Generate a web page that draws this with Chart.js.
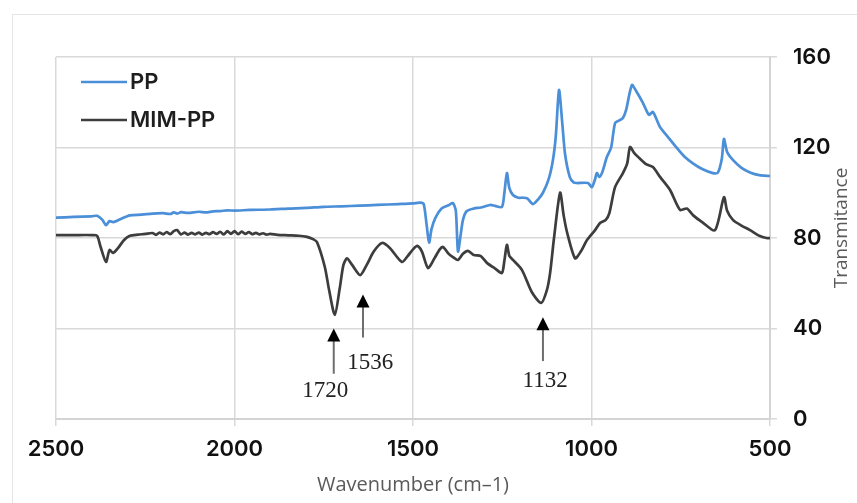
<!DOCTYPE html>
<html><head><meta charset="utf-8">
<script src="https://cdn.jsdelivr.net/npm/chart.js@4.4.0/dist/chart.umd.min.js"></script>
<style>
html,body{margin:0;padding:0;background:#fff;overflow:hidden;}
#wrap{position:relative;width:857px;height:503px;}
#frame{position:absolute;left:12px;top:14px;width:1000px;height:1000px;border-left:1px solid #e4e4e4;border-top:1px solid #e4e4e4;}
canvas{position:absolute;left:0;top:0;}
</style></head><body>
<div id="wrap"><div id="frame"></div><canvas id="c" width="857" height="503"></canvas></div>
<script>
// ---- data (wavenumber in cm-1, transmitance) ----
const ppWavenumber = [2500,2450,2400,2385,2370,2360,2350,2340,2320,2293,2260,2230,2200,2180,2170,2160,2150,2130,2100,2080,2060,2040,2020,2000,1957,1900,1850,1800,1750,1700,1650,1600,1540,1500,1480,1470,1462,1455,1448,1437,1420,1400,1388,1380,1374,1366,1360,1350,1330,1310,1284,1270,1251,1244,1237,1230,1220,1205,1192,1180,1164,1150,1136,1120,1108,1100,1091,1082,1074,1061,1050,1041,1010,999,990,985,978,970,957,945,934,922,912,903,887,875,856,845,839,828,808,790,761,740,716,690,660,646,635,629,620,604,580,556,530,500];
const ppValues     = [89,89.3,89.6,89.8,88,85.7,87.5,87,88.3,90,90.3,90.8,91,90.6,91.3,90.8,91.4,91.1,91.6,91.3,91.8,91.9,92.2,92.1,92.4,92.6,93,93.3,93.8,94,94.3,94.6,95,95.3,95.6,95,86,78,84,89,93,94.5,95.4,92,74,82,88,91.8,93,93.5,94.6,94.2,93.7,100,108.7,102,99,97.8,97.8,97.5,95,97,100,106,114.5,125,145.4,131,117,107,104.5,104.3,104.3,102.5,106,108.7,107,109,115.8,120,130.8,132,133,136.6,147.6,145,139.7,136,134.4,135.7,129,125.5,119.8,116,113,110.5,108.7,108.9,115,123.8,118,114.5,111,109,107.8,107.4];
const mimWavenumber = [2500,2450,2400,2385,2375,2360,2350,2340,2326,2310,2293,2270,2250,2230,2220,2210,2200,2190,2180,2170,2161,2150,2140,2130,2120,2110,2100,2090,2080,2070,2060,2050,2040,2030,2020,2010,2000,1990,1980,1970,1960,1950,1940,1930,1920,1910,1900,1880,1850,1820,1797,1780,1769,1747,1735,1719,1705,1695,1685,1670,1648,1630,1610,1587,1565,1531,1515,1500,1488,1475,1458,1440,1425,1416,1400,1388,1374,1360,1346,1330,1310,1293,1270,1251,1244,1237,1230,1220,1195,1167,1141,1125,1116,1105,1088,1078,1068,1046,1030,1013,990,976,960,950,934,912,900,892,880,864,846,828,808,780,752,733,715,690,654,629,620,604,580,556,530,510,500];
const mimValues     = [81.3,81.3,81.3,81,76,69.4,74.7,73.4,75.6,79,81,81.5,81.8,82.2,81.4,82.4,81.6,82.6,81.7,83,83.5,81.6,82.4,81.5,82.3,81.6,82.4,81.5,82.3,81.7,82.6,81.8,82.7,81.6,83,81.8,83,81.7,82.8,81.8,82.6,81.7,82.3,81.6,82.1,81.5,81.8,81.4,81.2,81,80.5,79.5,78.2,67.2,57,46,58,68,71,68,63.6,68,74,77.8,75.6,69.4,72,75,76.5,74,66.7,71,75,76,73,71.6,70.3,73,74.3,72.5,72,69,66.5,64.5,70,77,72,70.3,65.9,56,51.3,57,64.5,80,100,90,82.2,71,74,79,83.5,86.6,88,91,102.5,108.7,113,120.2,117.5,115,112.5,111.4,107,101.2,92.4,93,90,87,83.5,98,92,88,85.5,83.5,81,80,80];
const seriesNames = ['PP','MIM-PP'];
const xTicks = [2500,2000,1500,1000,500];
const yTicks = [0,40,80,120,160];
const xTitle = 'Wavenumber (cm\u20131)';
const yTitle = 'Transmitance';
// peak annotations (data coordinates)
const annotationLabels = ['1720','1536','1132'];
const annotationX      = [1722,1640,1136];
const annotationTipY   = [40,55,45];
const annotationTailY  = [20,36,25.6];
const annotationTextX  = [1746,1620,1130];
const annotationTextY  = [12.4,24.8,16.8];

const toPoints = (xs, ys) => xs.map((x, i) => ({x: x, y: ys[i]}));
const COLORS = ['#4a8fd8', '#3d3d3d'];

const decorPlugin = {
  id: 'decor',
  afterDatasetsDraw(chart) {
    const ctx = chart.ctx, area = chart.chartArea;
    const xs = chart.scales.x, ys = chart.scales.y;
    // legend inside the plot
    ctx.save();
    ctx.font = '600 22px Inter';
    ctx.textBaseline = 'middle';
    ctx.textAlign = 'left';
    chart.data.datasets.forEach((ds, i) => {
      const y = area.top + 25 + i * 38;
      ctx.strokeStyle = ds.borderColor;
      ctx.lineWidth = 2.6;
      ctx.beginPath();
      ctx.moveTo(area.left + 25, y);
      ctx.lineTo(area.left + 71, y);
      ctx.stroke();
      ctx.fillStyle = '#1e1e1e';
      ctx.fillText(ds.label, area.left + 74, y);
    });
    // annotations
    annotationLabels.forEach((lab, i) => {
      const px = xs.getPixelForValue(annotationX[i]);
      const tip = ys.getPixelForValue(annotationTipY[i]);
      const tail = ys.getPixelForValue(annotationTailY[i]);
      ctx.strokeStyle = '#6e6e6e';
      ctx.lineWidth = 2;
      ctx.beginPath();
      ctx.moveTo(px, tail);
      ctx.lineTo(px, tip + 10);
      ctx.stroke();
      ctx.fillStyle = '#000';
      ctx.beginPath();
      ctx.moveTo(px, tip);
      ctx.lineTo(px - 6.5, tip + 13);
      ctx.lineTo(px + 6.5, tip + 13);
      ctx.closePath();
      ctx.fill();
      ctx.font = '23px "Liberation Serif"';
      ctx.textAlign = 'center';
      ctx.fillStyle = '#222';
      ctx.fillText(lab, xs.getPixelForValue(annotationTextX[i]), ys.getPixelForValue(annotationTextY[i]));
    });
    // right axis title, reading bottom-to-top
    ctx.save();
    ctx.translate(842, 228);
    ctx.rotate(-Math.PI / 2);
    ctx.font = '19px "Open Sans"';
    ctx.fillStyle = '#5a5a5a';
    ctx.textAlign = 'center';
    ctx.textBaseline = 'middle';
    ctx.fillText(yTitle, 0, 0);
    ctx.restore();
    ctx.restore();
  }
};

new Chart(document.getElementById('c'), {
  type: 'line',
  data: {
    datasets: [
      {label: seriesNames[0], data: toPoints(ppWavenumber, ppValues), borderColor: COLORS[0], borderWidth: 2.7, pointRadius: 0, tension: 0.25, fill: false},
      {label: seriesNames[1], data: toPoints(mimWavenumber, mimValues), borderColor: COLORS[1], borderWidth: 2.7, pointRadius: 0, tension: 0.25, fill: false}
    ]
  },
  options: {
    responsive: false,
    devicePixelRatio: 1,
    animation: false,
    layout: {padding: {left: 56, top: 57, right: 0, bottom: 0}},
    plugins: {legend: {display: false}, tooltip: {enabled: false}},
    scales: {
      x: {
        type: 'linear', reverse: true, min: 500, max: 2500,
        afterBuildTicks: s => { s.ticks = xTicks.map(v => ({value: v})); },
        afterFit: s => { s.height = 84; },
        ticks: {color: '#111', font: {family: 'Inter', size: 22, weight: '600', lineHeight: 1.2}, padding: 10, maxRotation: 0, callback: v => String(v)},
        grid: {color: '#d9d9d9', lineWidth: 1.5, tickLength: 7, tickColor: '#d9d9d9'},
        border: {color: '#d4d4d4', width: 2},
        title: {display: true, text: xTitle, color: '#5a5a5a', font: {family: 'Open Sans', size: 20, lineHeight: 1.2}, padding: {top: 0, bottom: 6}}
      },
      y: {
        position: 'right', min: 0, max: 160,
        afterBuildTicks: s => { s.ticks = yTicks.map(v => ({value: v})); },
        afterFit: s => { s.width = 87; },
        ticks: {color: '#111', font: {family: 'Inter', size: 22, weight: '600'}, padding: 16, callback: v => String(v)},
        grid: {color: '#d9d9d9', lineWidth: 1.5, tickLength: 7, tickColor: '#d9d9d9'},
        border: {color: '#d4d4d4', width: 2}
      }
    }
  },
  plugins: [decorPlugin]
});
</script>
</body></html>
